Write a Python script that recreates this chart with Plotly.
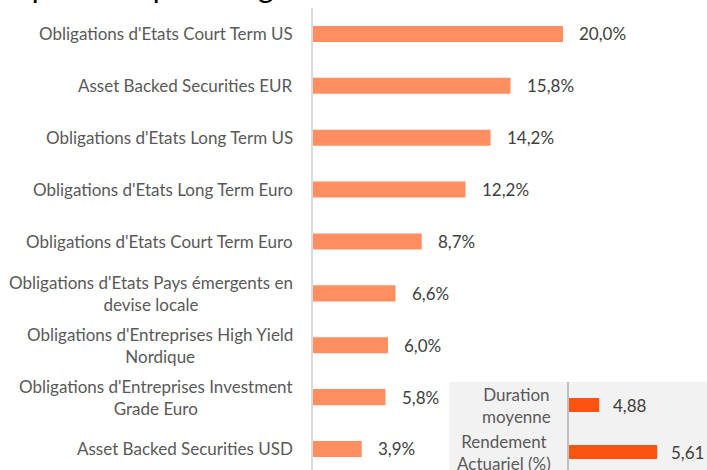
import plotly.graph_objects as go

W, H = 707, 470

# main breakdown (in %)
categories = [
    "Obligations d'Etats Court Term US",
    "Asset Backed Securities EUR",
    "Obligations d'Etats Long Term US",
    "Obligations d'Etats Long Term Euro",
    "Obligations d'Etats Court Term Euro",
    "Obligations d'Etats Pays émergents en<br>devise locale",
    "Obligations d'Entreprises High Yield<br>Nordique",
    "Obligations d'Entreprises Investment<br>Grade Euro",
    "Asset Backed Securities USD",
]
weights = [20.0, 15.8, 14.2, 12.2, 8.7, 6.6, 6.0, 5.8, 3.9]

# inset indicators
kpi_labels = ["Duration<br>moyenne", "Rendement<br>Actuariel (%)"]
kpi_values = [4.88, 5.61]

title = "Répartition par catégorie"

FONT = "Lato"
GREY = "#595959"
DARK = "#404040"

def fmt(v, d):
    return f"{v:.{d}f}".replace(".", ",")

fig = go.Figure()

fig.add_trace(go.Bar(
    x=weights, y=categories, orientation="h",
    marker=dict(color="#FF8F60", line=dict(width=0)),
    width=0.31, hoverinfo="skip", showlegend=False,
    xaxis="x", yaxis="y",
))

fig.add_trace(go.Bar(
    x=kpi_values, y=kpi_labels, orientation="h",
    marker=dict(color="#FC5312", line=dict(width=0)),
    width=0.3, hoverinfo="skip", showlegend=False,
    xaxis="x2", yaxis="y2",
))

ann = []
for c, v in zip(categories, weights):
    ann.append(dict(x=0, y=c, xref="x", yref="y", text=c, showarrow=False,
                    xanchor="right", align="center", xshift=-18,
                    font=dict(family=FONT, size=17, color=GREY)))
    ann.append(dict(x=v, y=c, xref="x", yref="y", text=fmt(v, 1) + "%",
                    showarrow=False, xanchor="left", xshift=14,
                    font=dict(family=FONT, size=17, color=DARK)))
for c, v in zip(kpi_labels, kpi_values):
    ann.append(dict(x=4.5, y=c, xref="x2", yref="y2", text=c, showarrow=False,
                    xanchor="right", align="center", xshift=-16,
                    font=dict(family=FONT, size=17, color=GREY)))
    ann.append(dict(x=v, y=c, xref="x2", yref="y2", text=fmt(v, 2),
                    showarrow=False, xanchor="left", xshift=12,
                    font=dict(family=FONT, size=17, color=DARK)))

# title, mostly cut off at the top edge
ann.append(dict(x=0, y=1 - 6 / H, xref="paper", yref="paper", text=title,
                showarrow=False, xanchor="left", yanchor="bottom", xshift=-4,
                font=dict(family=FONT, size=30, color="#000000")))

fig.update_layout(
    width=W, height=H,
    margin=dict(l=0, r=0, t=0, b=0),
    paper_bgcolor="white",
    plot_bgcolor="rgba(0,0,0,0)",
    annotations=ann,
    xaxis=dict(domain=[313 / W, 1], range=[0, (W - 313) / 12.5],
               showgrid=False, zeroline=False, showticklabels=False, fixedrange=True),
    yaxis=dict(domain=[0, 1 - 8 / H], range=[8.405, -0.5], type="category",
               showgrid=False, zeroline=False, showticklabels=False,
               showline=True, linecolor="#D9D9D9", linewidth=2),
    xaxis2=dict(domain=[569 / W, 1], range=[4.5, 4.5 + (W - 569) / 79.45],
                anchor="y2", showgrid=False, zeroline=False, showticklabels=False),
    yaxis2=dict(domain=[0, (H - 382) / H], range=[1.383, -0.49], type="category",
                anchor="x2", showgrid=False, zeroline=False, showticklabels=False,
                showline=True, linecolor="#BFBFBF", linewidth=2),
    shapes=[dict(type="rect", xref="paper", yref="paper", layer="below",
                 x0=449 / W, x1=1, y0=0, y1=(H - 382) / H,
                 fillcolor="#F2F2F2", line=dict(width=0))],
)

fig.write_html("out.html", config={"displayModeBar": False},
               post_script="document.body.style.margin='0';document.body.style.overflow='hidden';")
